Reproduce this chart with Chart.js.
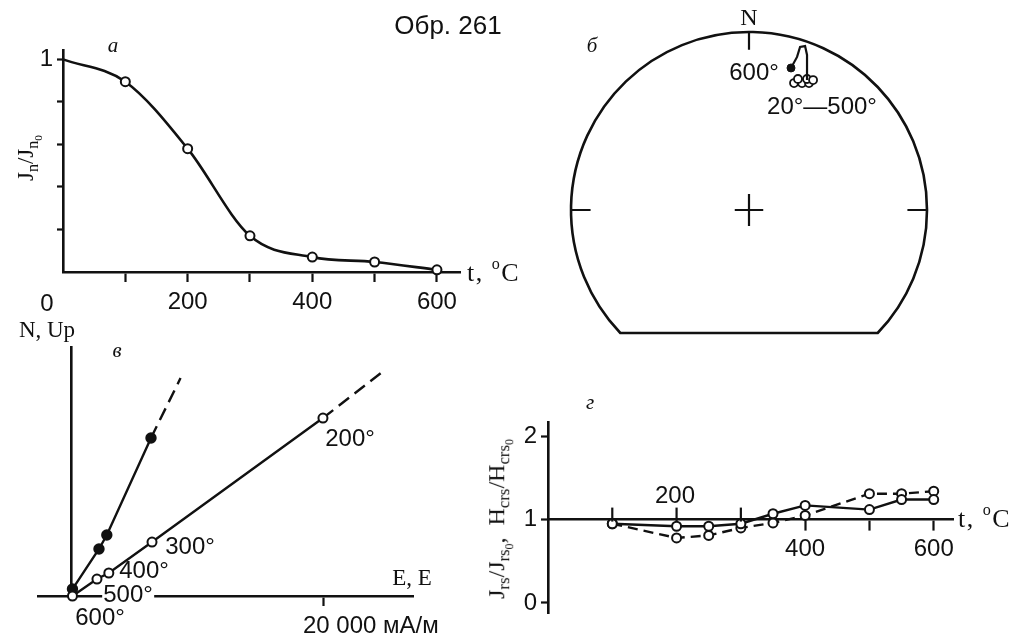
<!DOCTYPE html>
<html>
<head>
<meta charset="utf-8">
<script src="https://cdn.jsdelivr.net/npm/chart.js@4.4.1/dist/chart.umd.min.js"></script>
<style>
html, body { margin: 0; padding: 0; background: #fff; }
#page { position: relative; width: 1012px; height: 644px; overflow: hidden; background: #fff; }
canvas { position: absolute; }
.t { position: absolute; transform: translate(-50%, -50%); white-space: nowrap; line-height: 1; color: #111; }
.l { transform: translate(0, -50%); }
.sans { font-family: "Liberation Sans", Arial, sans-serif; font-size: 24px; }
.serif { font-family: "Liberation Serif", "Times New Roman", serif; font-size: 23px; }
.it { font-family: "Liberation Serif", "Times New Roman", serif; font-style: italic; font-size: 21px; }
.bg { background: #fff; line-height: 0.85; padding: 0 1px; }
.rot { transform: translate(-50%, -50%) rotate(-90deg); }
.wide { letter-spacing: 1.5px; }
sub { font-size: 70%; vertical-align: -0.3em; line-height: 0; }
sup { font-size: 62%; vertical-align: 0.75em; line-height: 0; }
</style>
</head>
<body>
<div id="page">
  <canvas id="chA" width="540" height="320" style="left:0;top:0"></canvas>
  <canvas id="chB" width="472" height="340" style="left:540px;top:0"></canvas>
  <canvas id="chC" width="480" height="324" style="left:0;top:320px"></canvas>
  <canvas id="chD" width="542" height="264" style="left:470px;top:380px"></canvas>

  <div class="t sans" style="left:448px;top:25px;font-size:26px">Обр. 261</div>

  <!-- а -->
  <div class="t it" style="left:113px;top:45px">а</div>
  <div class="t serif rot" style="left:26px;top:158px;font-size:23px">J<sub>n</sub>/J<sub>n<sub>0</sub></sub></div>
  <div class="t sans" style="left:47px;top:303px">0</div>
  <div class="t serif l wide" style="left:467px;top:273px;font-size:26px">t, <sup>o</sup>C</div>

  <!-- б -->
  <div class="t it" style="left:592px;top:45px">б</div>
  <div class="t serif" style="left:749px;top:17px;font-size:24px">N</div>
  <div class="t sans" style="left:754px;top:72px">600°</div>
  <div class="t sans" style="left:822px;top:106px">20°—500°</div>

  <!-- в -->
  <div class="t serif" style="left:47px;top:329px">N, Up</div>
  <div class="t it" style="left:117px;top:350px">в</div>
  <div class="t serif" style="left:412px;top:577px">E, E</div>
  <div class="t sans" style="left:350px;top:438px">200°</div>
  <div class="t sans bg" style="left:190px;top:546px">300°</div>
  <div class="t sans" style="left:144px;top:570px">400°</div>
  <div class="t sans bg" style="left:128px;top:594px">500°</div>
  <div class="t sans" style="left:100px;top:617px">600°</div>

  <!-- г -->
  <div class="t it" style="left:590px;top:402px">г</div>
  <div class="t sans" style="left:675px;top:495px">200</div>
  <div class="t serif rot" style="left:497px;top:519px;font-size:24px">J<sub>rs</sub>/J<sub>rs<sub>0</sub></sub>,&nbsp; H<sub>crs</sub>/H<sub>crs<sub>0</sub></sub></div>
  <div class="t serif l wide" style="left:958px;top:519px;font-size:26px">t, <sup>o</sup>C</div>
</div>

<script>
const INK = '#111'
Chart.defaults.font.family = '"Liberation Sans", Arial, sans-serif'
Chart.defaults.color = INK

/* panel а: thermal demagnetization */
const tempA = [0, 100, 200, 300, 400, 500, 600]
const jnRatio = [1.0, 0.895, 0.58, 0.17, 0.07, 0.047, 0.01]
const tickA = [100, 200, 300, 400, 500, 600]
const labelA = [200, 400, 600]
const yTickA = [0.2, 0.4, 0.6, 0.8, 1]

/* panel б: directions on the stereonet (unit circle) */
const dirOpenX = [0.253, 0.298, 0.337, 0.275, 0.326, 0.36]
const dirOpenY = [0.713, 0.713, 0.713, 0.736, 0.736, 0.73]
const dir600X = [0.236]
const dir600Y = [0.798]
const pathX = [0.326, 0.326, 0.315, 0.287, 0.27, 0.236]
const pathY = [0.73, 0.871, 0.921, 0.916, 0.86, 0.798]

/* panel в: vector diagram, mA/m */
const hProjX = [80, 2020, 2960, 6380, 19920, 24510]
const hProjY = [0, 1320, 1790, 4200, 13850, 17350]
const vProjX = [80, 2180, 2800, 6300, 8640]
const vProjY = [540, 3660, 4750, 12300, 16960]
const tickC = [20000]

/* panel г */
const tempG = [100, 200, 250, 300, 350, 400, 500, 550, 600]
const jrsRatio = [0.95, 0.92, 0.92, 0.95, 1.07, 1.17, 1.12, 1.24, 1.24]
const hcrsRatio = [0.95, 0.78, 0.81, 0.90, 0.96, 1.05, 1.31, 1.31, 1.34]
const tickG = [100, 200, 300, 400, 500, 600]
const upTickG = [100, 200, 300]
const labelG = [400, 600]
const yTickG = [0, 1, 2]

const pts = (xs, ys) => xs.map((x, i) => ({ x: x, y: ys[i] }))
const noLegend = { legend: { display: false }, tooltip: { enabled: false } }
const openPt = { pointBackgroundColor: '#fff', pointBorderColor: INK, pointBorderWidth: 2, pointRadius: 4.5 }

//а
new Chart(document.getElementById('chA'), {
    type: 'line',
    data: {
        datasets: [{
            data: pts(tempA, jnRatio),
            borderColor: INK, borderWidth: 2.6,
            cubicInterpolationMode: 'monotone',
            ...openPt,
            pointRadius: tempA.map(t => t === 0 ? 0 : 4.5),
            clip: false
        }]
    },
    options: {
        responsive: false, animation: false,
        layout: { padding: { left: 0, top: 50, right: 80, bottom: 0 } },
        plugins: noLegend,
        scales: {
            x: {
                type: 'linear', min: 0, max: 637,
                afterBuildTicks: s => { s.ticks = tickA.map(v => ({ value: v })) },
                afterFit: s => { s.height = 48 },
                grid: { drawOnChartArea: false, tickLength: 10, tickWidth: 2.2, tickColor: INK },
                border: { color: INK, width: 2.6 },
                ticks: { callback: v => labelA.includes(v) ? String(v) : '', font: { size: 24 }, padding: 6, maxRotation: 0, autoSkip: false }
            },
            y: {
                min: 0, max: 1.044,
                afterBuildTicks: s => { s.ticks = yTickA.map(v => ({ value: v })) },
                afterFit: s => { s.width = 63 },
                grid: { drawOnChartArea: false, tickLength: 6, tickWidth: 2.2, tickColor: INK },
                border: { color: INK, width: 2.6 },
                ticks: { callback: v => v === 1 ? '1' : '', font: { size: 24 }, padding: 4 }
            }
        }
    }
})

//б - stereonet frame drawn from the scales
const netFrame = {
    id: 'netFrame',
    beforeDatasetsDraw(chart) {
        const { ctx, scales: { x, y } } = chart
        const cx = x.getPixelForValue(0), cy = y.getPixelForValue(0)
        const r = x.getPixelForValue(1) - cx
        const a = Math.asin(-y.min)
        ctx.save()
        ctx.strokeStyle = INK
        ctx.lineWidth = 2.6
        ctx.beginPath()
        ctx.arc(cx, cy, r, Math.PI - a, 2 * Math.PI + a)
        ctx.closePath()
        ctx.stroke()
        ctx.lineWidth = 2.2
        ctx.beginPath()
        ctx.moveTo(cx, cy - r); ctx.lineTo(cx, cy - r * 0.9)
        ctx.moveTo(cx - r, cy); ctx.lineTo(cx - r * 0.89, cy)
        ctx.moveTo(cx + r, cy); ctx.lineTo(cx + r * 0.89, cy)
        ctx.moveTo(cx - r * 0.08, cy); ctx.lineTo(cx + r * 0.08, cy)
        ctx.moveTo(cx, cy - r * 0.09); ctx.lineTo(cx, cy + r * 0.09)
        ctx.stroke()
        ctx.restore()
    }
}

new Chart(document.getElementById('chB'), {
    type: 'scatter',
    data: {
        datasets: [
            { data: pts(pathX, pathY), showLine: true, borderColor: INK, borderWidth: 2.2, pointRadius: 0, clip: false },
            { data: pts(dirOpenX, dirOpenY), ...openPt, pointRadius: 4, pointBorderWidth: 1.8, clip: false },
            { data: pts(dir600X, dir600Y), pointRadius: 4, pointBackgroundColor: INK, pointBorderColor: INK, clip: false }
        ]
    },
    options: {
        responsive: false, animation: false,
        layout: { padding: { left: 31, top: 32, right: 85, bottom: 7 } },
        plugins: noLegend,
        scales: {
            x: { display: false, min: -1, max: 1 },
            y: { display: false, min: -0.691, max: 1 }
        }
    },
    plugins: [netFrame]
})

//в
const lastDash = n => ({ borderDash: c => c.p1DataIndex === n ? [13, 7] : undefined })

new Chart(document.getElementById('chC'), {
    type: 'scatter',
    data: {
        datasets: [
            {
                data: pts(hProjX, hProjY), showLine: true, borderColor: INK, borderWidth: 2.4,
                ...openPt, pointRadius: hProjX.map((v, i) => i === hProjX.length - 1 ? 0 : 4.5),
                segment: lastDash(hProjX.length - 1), clip: false
            },
            {
                data: pts(vProjX, vProjY), showLine: true, borderColor: INK, borderWidth: 2.4,
                pointBackgroundColor: INK, pointBorderColor: INK,
                pointRadius: vProjX.map((v, i) => i === vProjX.length - 1 ? 0 : 4.5),
                segment: lastDash(vProjX.length - 1), clip: false
            }
        ]
    },
    options: {
        responsive: false, animation: false,
        layout: { padding: { left: 38, top: 27, right: 60, bottom: 0 } },
        plugins: noLegend,
        scales: {
            x: {
                type: 'linear', min: -2650, max: 27080, position: 'bottom',
                afterBuildTicks: s => { s.ticks = tickC.map(v => ({ value: v })) },
                afterFit: s => { s.height = 48 },
                grid: { drawOnChartArea: false, tickLength: 10, tickWidth: 2.2, tickColor: INK },
                border: { color: INK, width: 2.6 },
                ticks: { callback: () => '20 000 мА/м', align: 'start', labelOffset: -21, font: { size: 24 }, padding: 6, maxRotation: 0, autoSkip: false }
            },
            y: {
                min: 0, max: 19380, position: { x: 0 },
                grid: { display: false },
                border: { display: true, color: INK, width: 2.6 },
                ticks: { display: false }
            }
        }
    }
})

//г
const upTicks = {
    id: 'upTicks',
    afterDraw(chart) {
        const { ctx, scales: { x, y } } = chart
        const y1 = y.getPixelForValue(1)
        ctx.save()
        ctx.strokeStyle = INK
        ctx.lineWidth = 2.2
        upTickG.forEach(v => {
            const px = x.getPixelForValue(v)
            ctx.beginPath()
            ctx.moveTo(px, y1 + 2)
            ctx.lineTo(px, y1 - 12)
            ctx.stroke()
        })
        ctx.restore()
    }
}

new Chart(document.getElementById('chD'), {
    type: 'line',
    data: {
        datasets: [
            { data: pts(tempG, jrsRatio), borderColor: INK, borderWidth: 2.4, ...openPt, clip: false },
            { data: pts(tempG, hcrsRatio), borderColor: INK, borderWidth: 2.4, borderDash: [10, 6], ...openPt, clip: false }
        ]
    },
    options: {
        responsive: false, animation: false,
        layout: { padding: { left: 0, top: 42, right: 59, bottom: 31 } },
        plugins: noLegend,
        scales: {
            x: {
                type: 'linear', min: 0, max: 630, position: { y: 1 },
                afterBuildTicks: s => { s.ticks = tickG.map(v => ({ value: v })) },
                grid: {
                    drawOnChartArea: false, tickLength: 10, tickWidth: 2.2,
                    tickColor: c => (c.tick && upTickG.includes(c.tick.value)) ? 'rgba(0,0,0,0)' : INK
                },
                border: { color: INK, width: 2.6 },
                ticks: { callback: v => labelG.includes(v) ? String(v) : '', font: { size: 24 }, padding: 5, maxRotation: 0, autoSkip: false }
            },
            y: {
                min: -0.12, max: 2.17,
                afterBuildTicks: s => { s.ticks = yTickG.map(v => ({ value: v })) },
                afterFit: s => { s.width = 78 },
                grid: { drawOnChartArea: false, tickLength: 7, tickWidth: 2.2, tickColor: INK },
                border: { color: INK, width: 2.6 },
                ticks: { callback: v => String(v), font: { size: 24 }, padding: 4 }
            }
        }
    },
    plugins: [upTicks]
})
</script>
</body>
</html>
